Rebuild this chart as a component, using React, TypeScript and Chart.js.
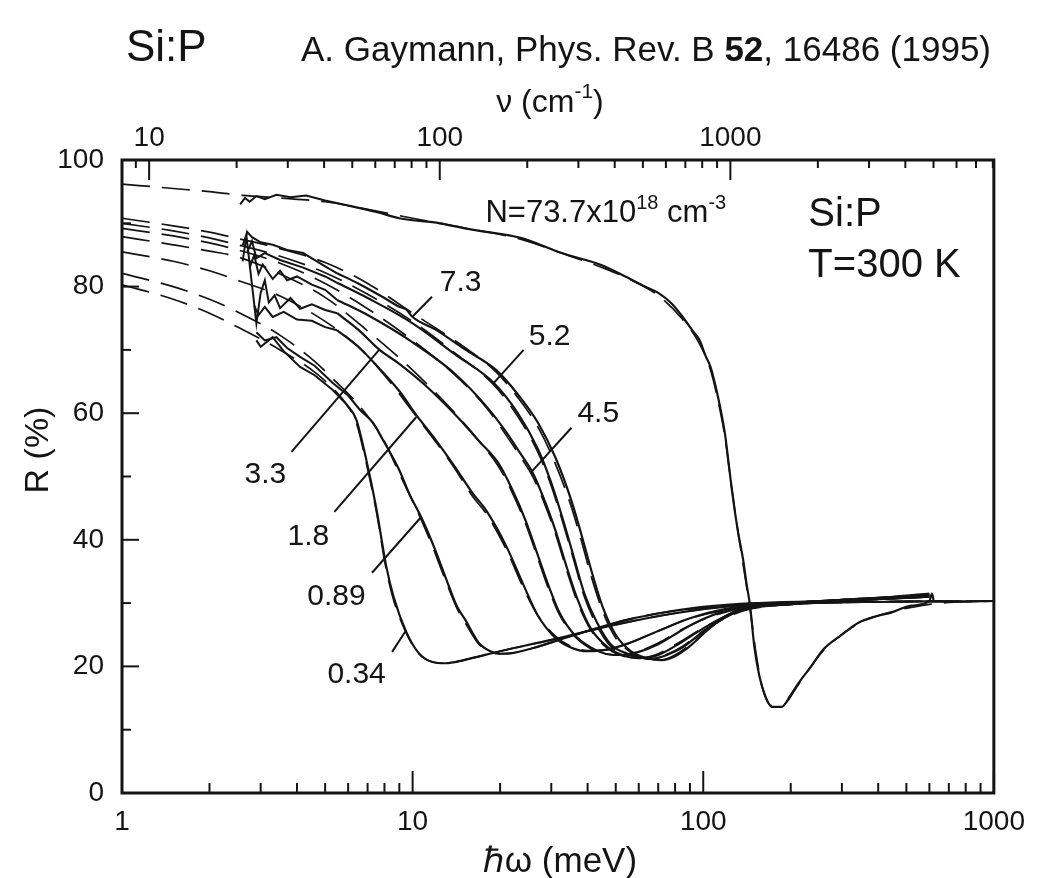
import React, { useEffect, useRef } from "react";
import { Chart, registerables } from "chart.js";

Chart.register(...registerables);

type P = [number, number];

// ---------- data: photon energy (meV) vs reflectivity R (%) ----------
// N = 73.7e18 cm^-3
const MEAS_737: P[] = [[2.55, 93.0], [2.65, 94.0], [2.75, 93.4], [2.9, 94.3], [3.1, 93.8], [3.4, 94.5], [3.8, 94.1], [4.3, 94.4], [5, 93.6], [6, 92.8], [7.5, 91.8], [9, 90.8], [12.4, 90.0], [16, 89.0], [23.5, 87.7], [32.6, 85.3], [44.6, 83.4], [54.4, 81.5], [63, 80.0], [70, 79.0], [78, 77.3], [85, 75.2], [92, 73.0], [97, 71.6], [102, 69.0], [106, 67.3], [110, 64.5], [113, 62.1], [116, 59.5], [119, 56.5], [122, 52.5], [125, 48.5], [128, 45.0], [132, 41.0], [137, 37.0], [141, 33.0], [145, 29.5], [150, 23.0], [156, 18.5], [163, 15.5], [172, 13.6], [186, 13.6], [200, 15.5], [213, 17.4], [235, 20.0], [258, 22.6], [300, 25.0], [342, 26.9], [400, 28.0], [443, 28.5], [520, 29.6], [600, 30.3], [612, 31.5], [620, 30.5]];
const FIT_737: P[] = [[1, 96.2], [1.5, 95.5], [2, 95.0], [2.6, 94.4], [3.5, 94.0], [5, 93.4], [7, 92.2], [10, 90.8], [15, 89.3], [23.5, 87.5], [33, 85.2], [45, 83.0], [55, 81.3], [70, 78.6], [85, 74.8], [97, 71.0], [106, 66.8], [113, 61.5], [119, 56.0], [125, 48.5], [132, 41.0], [140, 33.5], [146, 28.0], [152, 22.0], [160, 16.5], [172, 13.8], [186, 13.8], [213, 17.2], [258, 22.4], [342, 26.8], [443, 28.6], [600, 29.8], [700, 30.1], [1000, 30.3]];

// N = 7.3e18
const MEAS_73: P[] = [[2.6, 86.5], [2.7, 88.6], [2.8, 87.8], [3.0, 87.0], [3.3, 86.6], [3.7, 85.8], [4.2, 85.3], [5, 83.2], [5.5, 82.1], [6.5, 80.5], [8, 78.2], [9, 76.8], [9.5, 76.4], [10, 75.2], [12, 73.2], [15, 70.2], [19.4, 66.8], [23, 63.0], [27, 58.5], [31, 53.0], [35, 46.5], [38, 41.0], [41, 35.5], [45, 29.5], [50, 25.0], [56, 22.5], [64, 21.3], [72, 21.0], [80, 21.6], [90, 23.2], [105, 26.0], [120, 28.0], [140, 29.3], [200, 30.0], [300, 30.5], [450, 31.0], [600, 31.5]];
const FIT_73: P[] = [[1, 90.8], [1.5, 89.6], [2, 88.6], [2.5, 87.6], [3.5, 86.0], [5, 83.8], [7, 80.5], [10, 75.8], [15, 70.5], [19.4, 66.5], [23, 62.5], [27, 57.8], [31, 52.0], [35, 45.5], [38, 40.0], [41, 34.5], [45, 28.8], [50, 24.5], [56, 22.3], [64, 21.2], [72, 21.0], [80, 21.8], [90, 23.4], [105, 26.0], [120, 27.9], [140, 29.0], [200, 29.8], [400, 30.2], [1000, 30.3]];

// N = 5.2e18
const MEAS_52: P[] = [[2.7, 85.5], [2.8, 87.2], [2.9, 84.5], [3.1, 85.3], [3.5, 84.2], [4.2, 83.0], [5, 81.6], [5.5, 80.6], [7, 78.2], [10, 74.2], [14, 69.3], [19, 64.8], [23, 60.0], [27, 54.3], [30, 49.0], [33, 43.0], [36, 37.0], [39, 31.5], [43, 27.0], [48, 23.5], [55, 22.0], [66, 21.2], [75, 21.8], [85, 23.0], [100, 25.5], [120, 27.8], [140, 29.1], [200, 30.0], [300, 30.5], [600, 31.3]];
const FIT_52: P[] = [[1, 90.0], [1.5, 88.8], [2, 87.7], [2.5, 86.6], [3.5, 84.8], [5, 82.2], [7, 78.8], [10, 74.5], [14, 69.5], [19, 64.5], [23, 59.5], [27, 53.8], [30, 48.5], [33, 42.5], [36, 36.5], [39, 31.0], [43, 26.5], [48, 23.2], [55, 21.8], [66, 21.2], [75, 21.9], [85, 23.2], [100, 25.6], [120, 27.7], [140, 28.9], [200, 29.8], [400, 30.2], [1000, 30.3]];

// N = 4.5e18
const MEAS_45: P[] = [[2.75, 83.0], [2.85, 85.0], [2.95, 82.0], [3.05, 83.5], [3.3, 81.2], [3.5, 82.5], [3.7, 81.0], [4, 81.6], [4.5, 80.3], [5, 79.5], [5.5, 77.9], [7, 75.5], [10, 71.2], [14, 66.2], [18, 61.0], [21, 57.0], [23.2, 54.0], [25.9, 50.6], [28, 47.0], [31, 41.5], [34, 35.5], [37, 30.5], [41, 26.0], [47, 23.0], [54, 21.6], [60, 21.3], [70, 21.8], [82, 23.5], [100, 26.0], [120, 28.0], [140, 29.2], [200, 30.0], [300, 30.5], [600, 31.2]];
const FIT_45: P[] = [[1, 89.2], [1.5, 88.0], [2, 86.9], [2.5, 85.8], [3.5, 83.7], [5, 80.5], [7, 76.5], [10, 71.5], [14, 66.0], [18, 60.8], [21, 56.5], [23.2, 53.5], [25.9, 50.0], [28, 46.5], [31, 41.0], [34, 35.0], [37, 30.0], [41, 25.8], [47, 22.8], [54, 21.5], [60, 21.3], [70, 22.0], [82, 23.7], [100, 26.1], [120, 27.9], [140, 29.0], [200, 29.8], [400, 30.2], [1000, 30.3]];

// N = 3.3e18
const MEAS_33: P[] = [[2.6, 84.0], [2.68, 88.0], [2.9, 74.2], [3.0, 79.0], [3.1, 81.0], [3.2, 77.5], [3.35, 78.6], [3.5, 76.6], [3.8, 78.2], [4.1, 76.5], [4.5, 77.2], [5, 76.3], [5.5, 75.8], [6.5, 73.2], [7.7, 70.0], [9, 67.8], [11, 64.5], [14, 59.8], [17, 55.5], [19.8, 52.0], [22, 48.0], [24.5, 43.0], [27, 37.5], [29.5, 32.5], [32, 28.5], [36, 25.0], [41, 23.0], [46, 22.0], [52, 21.8], [60, 22.3], [70, 23.5], [85, 25.8], [100, 27.5], [130, 29.2], [200, 30.0], [300, 30.4], [600, 31.0]];
const FIT_33: P[] = [[1, 87.9], [1.5, 86.6], [2, 85.6], [2.5, 84.7], [3.5, 82.0], [5, 78.3], [7, 73.0], [10, 66.8], [14, 60.0], [17, 55.5], [19.8, 51.5], [22, 47.5], [24.5, 42.5], [27, 37.0], [29.5, 32.0], [32, 28.2], [36, 24.8], [41, 22.8], [46, 22.0], [52, 21.8], [60, 22.4], [70, 23.7], [85, 25.9], [100, 27.4], [130, 29.0], [200, 29.8], [400, 30.2], [1000, 30.3]];

// N = 1.8e18
const MEAS_18: P[] = [[2.85, 77.0], [2.95, 75.5], [3.1, 76.8], [3.3, 75.2], [3.6, 76.0], [4, 74.8], [4.5, 74.6], [5, 73.6], [5.5, 73.1], [6.5, 70.5], [8, 66.2], [9, 63.5], [10.3, 59.7], [12, 55.8], [14, 51.5], [16, 47.5], [18, 44.5], [21, 39.0], [24, 33.0], [27, 28.0], [31, 24.5], [35, 23.0], [40, 22.4], [46, 22.6], [55, 23.6], [70, 25.6], [90, 27.6], [120, 29.1], [200, 30.0], [300, 30.4], [600, 31.0]];
const FIT_18: P[] = [[1, 85.5], [1.5, 84.0], [2, 82.5], [2.5, 81.0], [3.5, 78.5], [5, 74.5], [6.5, 70.5], [8, 66.0], [10.3, 59.5], [12, 55.5], [14, 51.2], [16, 47.0], [18, 44.0], [21, 38.5], [24, 32.5], [27, 28.0], [31, 24.8], [35, 23.2], [40, 22.5], [46, 22.6], [55, 23.6], [70, 25.6], [90, 27.6], [120, 28.9], [200, 29.8], [400, 30.2], [1000, 30.3]];

// N = 0.89e18
const MEAS_089: P[] = [[2.9, 72.8], [3.1, 71.5], [3.4, 72.0], [3.7, 70.3], [4.1, 68.9], [4.6, 67.5], [5.3, 64.8], [6, 62.8], [6.6, 60.5], [7.3, 58.5], [7.9, 55.8], [8.5, 53.2], [9, 51.0], [9.8, 47.0], [10.7, 43.6], [11.7, 39.5], [13, 34.0], [14.2, 29.5], [15.2, 27.3], [16.9, 23.7], [18.5, 22.4], [20, 22.0], [22, 22.1], [26, 22.9], [32, 24.2], [40, 25.6], [55, 27.4], [75, 28.6], [100, 29.4], [150, 30.0], [300, 30.4], [600, 31.0]];
const FIT_089: P[] = [[1, 82.1], [1.5, 80.0], [2, 78.0], [2.5, 76.0], [3.5, 72.3], [4.6, 68.2], [5.3, 65.5], [6.6, 61.0], [7.9, 56.0], [9, 50.5], [10.7, 43.2], [11.7, 39.0], [13, 33.5], [14.2, 29.2], [15.2, 26.8], [16.9, 23.5], [18.5, 22.3], [20, 22.0], [22, 22.1], [26, 22.9], [32, 24.2], [40, 25.6], [55, 27.4], [75, 28.6], [100, 29.3], [150, 29.9], [400, 30.2], [1000, 30.3]];

// N = 0.34e18
const MEAS_034: P[] = [[2.9, 71.5], [3.0, 70.5], [3.3, 72.0], [3.6, 69.8], [4.1, 67.3], [4.6, 66.0], [5.3, 63.7], [5.9, 61.5], [6.4, 59.0], [6.9, 53.0], [7.5, 45.0], [8.1, 36.0], [8.6, 31.0], [9.5, 25.5], [10.5, 22.1], [11.7, 20.7], [13, 20.5], [15, 21.0], [20, 22.4], [30, 24.2], [50, 26.6], [80, 28.4], [130, 29.6], [250, 30.2], [600, 31.0]];
const FIT_034: P[] = [[1, 80.3], [1.5, 78.0], [2, 75.8], [2.5, 73.6], [3.5, 70.0], [4.6, 66.5], [5.3, 64.0], [5.9, 61.5], [6.4, 58.5], [6.9, 52.5], [7.5, 44.5], [8.1, 35.5], [8.6, 30.5], [9.5, 25.3], [10.5, 22.0], [11.7, 20.7], [13, 20.5], [15, 21.0], [20, 22.4], [30, 24.2], [50, 26.6], [80, 28.4], [130, 29.6], [250, 30.1], [1000, 30.3]];

const MEASURED: P[][] = [MEAS_737, MEAS_73, MEAS_52, MEAS_45, MEAS_33, MEAS_18, MEAS_089, MEAS_034];
const FITS: P[][] = [FIT_737, FIT_73, FIT_52, FIT_45, FIT_33, FIT_18, FIT_089, FIT_034];
// below this energy (meV) the measured spectra are noisy: drawn with straight segments
const NOISY_BELOW = 5.5;

// ---------- axes ----------
const X_TICKS = [1, 10, 100, 1000];
const X_MINOR = [2, 3, 4, 5, 6, 7, 8, 9, 20, 30, 40, 50, 60, 70, 80, 90, 200, 300, 400, 500, 600, 700, 800, 900];
const Y_TICKS = [0, 20, 40, 60, 80, 100];
const Y_MINOR = [10, 30, 50, 70, 90];
const WN_TICKS = [10, 100, 1000];
const WN_MINOR = [9, 20, 30, 40, 50, 60, 70, 80, 90, 200, 300, 400, 500, 600, 700, 800, 900, 2000, 3000, 4000, 5000, 6000, 7000, 8000];
const MEV_TO_WN = 8.0655;

// ---------- annotations (label text, position in data units) ----------
const SAMPLE_LABELS = ["7.3", "5.2", "4.5", "3.3", "1.8", "0.89", "0.34"];
const LABEL_AT: P[] = [[12.4, 79.3], [25.1, 70.8], [36.9, 58.6], [2.64, 49.0], [3.71, 39.2], [4.34, 29.7], [5.09, 17.4]];
const LEADER_FROM: P[] = [[9.96, 75.2], [19.03, 64.8], [25.5, 50.6], [7.67, 70.0], [10.3, 59.4], [10.7, 43.6], [9.5, 25.7]];
const LEADER_TO: P[] = [[11.66, 78.4], [24.1, 70.0], [35.2, 57.7], [3.83, 53.9], [5.38, 44.4], [7.25, 34.8], [8.5, 22.3]];
const DENSITY_AT: P = [17.8, 90.2];
const SAMPLE_AT: P = [230, 89.6];
const TEMP_AT: P = [230, 81.5];

const INK = "#141414";
const FAM = "'Liberation Sans', Arial, sans-serif";

type Part = { t: string; size: number; bold?: boolean; rise?: number };
const fnt = (p: Part) => `${p.bold ? "bold " : ""}${p.size}px ${FAM}`;
function richWidth(ctx: CanvasRenderingContext2D, parts: Part[]) {
  let w = 0;
  for (const p of parts) { ctx.font = fnt(p); w += ctx.measureText(p.t).width; }
  return w;
}
function drawRich(ctx: CanvasRenderingContext2D, parts: Part[], x: number, y: number, align: "left" | "center" = "left") {
  let cx = align === "center" ? x - richWidth(ctx, parts) / 2 : x;
  ctx.textAlign = "left";
  ctx.textBaseline = "alphabetic";
  for (const p of parts) {
    ctx.font = fnt(p);
    ctx.fillText(p.t, cx, y - (p.rise || 0));
    cx += ctx.measureText(p.t).width;
  }
}

const decor = {
  id: "decor",
  beforeDraw(chart: any) {
    const ctx = chart.ctx;
    ctx.save();
    ctx.fillStyle = "#ffffff";
    ctx.fillRect(0, 0, chart.width, chart.height);
    ctx.restore();
  },
  afterDraw(chart: any) {
    const { ctx, chartArea: a, scales } = chart;
    const sx = scales.x, sy = scales.y, st = scales.x2;
    const px = (p: P) => [sx.getPixelForValue(p[0]), sy.getPixelForValue(p[1])];
    ctx.save();
    ctx.strokeStyle = INK;
    ctx.fillStyle = INK;
    ctx.lineCap = "butt";
    const seg = (x1: number, y1: number, x2: number, y2: number) => {
      ctx.beginPath(); ctx.moveTo(x1, y1); ctx.lineTo(x2, y2); ctx.stroke();
    };
    ctx.lineWidth = 2;
    X_TICKS.forEach((v) => { const p = sx.getPixelForValue(v); seg(p, a.bottom, p, a.bottom - 22); });
    X_MINOR.forEach((v) => { const p = sx.getPixelForValue(v); seg(p, a.bottom, p, a.bottom - 10); });
    WN_TICKS.forEach((v) => { const p = st.getPixelForValue(v); seg(p, a.top, p, a.top + 20); });
    WN_MINOR.forEach((v) => { const p = st.getPixelForValue(v); seg(p, a.top, p, a.top + 8); });
    Y_TICKS.forEach((v) => { const p = sy.getPixelForValue(v); seg(a.left, p, a.left + 17, p); });
    Y_MINOR.forEach((v) => { const p = sy.getPixelForValue(v); seg(a.left, p, a.left + 9, p); });
    ctx.lineWidth = 3;
    ctx.strokeRect(a.left, a.top, a.right - a.left, a.bottom - a.top);

    // leaders and sample labels
    ctx.lineWidth = 2;
    LEADER_FROM.forEach((f, i) => {
      const [x1, y1] = px(f); const [x2, y2] = px(LEADER_TO[i]);
      seg(x1, y1, x2, y2);
    });
    SAMPLE_LABELS.forEach((t, i) => {
      const [x, y] = px(LABEL_AT[i]);
      drawRich(ctx, [{ t, size: 30 }], x, y);
    });

    // in-plot legend text
    const [nx, ny] = px(DENSITY_AT);
    drawRich(ctx, [
      { t: "N=73.7x10", size: 31 }, { t: "18", size: 20, rise: 13 },
      { t: " cm", size: 31 }, { t: "-3", size: 20, rise: 13 },
    ], nx, ny);
    const [tx, ty1] = px(SAMPLE_AT);
    const [, ty2] = px(TEMP_AT);
    drawRich(ctx, [{ t: "Si:P", size: 40 }], tx, ty1);
    drawRich(ctx, [{ t: "T=300 K", size: 40 }], tx, ty2);

    // axis titles
    drawRich(ctx, [{ t: "\u210F\u03C9 (meV)", size: 35 }], (a.left + a.right) / 2 + 2, 872, "center");
    drawRich(ctx, [{ t: "\u03BD (cm", size: 32 }, { t: "-1", size: 21, rise: 14 }, { t: ")", size: 32 }], 550, 112, "center");
    ctx.save();
    ctx.translate(48, 450);
    ctx.rotate(-Math.PI / 2);
    drawRich(ctx, [{ t: "R (%)", size: 34 }], 0, 0, "center");
    ctx.restore();

    // page header
    drawRich(ctx, [{ t: "Si:P", size: 44 }], 126, 61);
    drawRich(ctx, [
      { t: "A. Gaymann, Phys. Rev. B ", size: 35 }, { t: "52", size: 35, bold: true },
      { t: ", 16486 (1995)", size: 35 },
    ], 301, 61);
    ctx.restore();
  },
};

const toXY = (arr: P[]) => arr.map(([x, y]) => ({ x, y }));

export default function App() {
  const ref = useRef<HTMLCanvasElement | null>(null);
  useEffect(() => {
    if (!ref.current) return;
    const datasets: any[] = [];
    FITS.forEach((d) => datasets.push({
      data: toXY(d), borderColor: INK, borderWidth: 1.7, borderDash: [28, 12],
      pointRadius: 0, fill: false, cubicInterpolationMode: "monotone",
    }));
    MEASURED.forEach((d) => {
      const k = d.findIndex((p) => p[0] >= NOISY_BELOW);
      datasets.push({
        data: toXY(d.slice(0, k + 1)), borderColor: INK, borderWidth: 2, tension: 0,
        pointRadius: 0, fill: false, borderJoinStyle: "miter",
      });
      datasets.push({
        data: toXY(d.slice(k)), borderColor: INK, borderWidth: 2.2,
        pointRadius: 0, fill: false, cubicInterpolationMode: "monotone",
      });
    });
    const tickFont = { family: FAM, size: 28 };
    const chart = new Chart(ref.current, {
      type: "line",
      data: { datasets },
      options: {
        animation: false,
        responsive: false,
        maintainAspectRatio: false,
        devicePixelRatio: 1,
        layout: { padding: { left: 0, right: 40, top: 0, bottom: 0 } },
        plugins: { legend: { display: false }, tooltip: { enabled: false }, title: { display: false } },
        scales: {
          x: {
            type: "logarithmic", position: "bottom", min: 1, max: 1000,
            grid: { display: false, drawTicks: false, tickLength: 0 }, border: { display: false },
            ticks: { autoSkip: false, maxRotation: 0, color: INK, font: tickFont, padding: 12, callback: (v: any) => String(v) },
            afterBuildTicks: (s: any) => { s.ticks = X_TICKS.map((value) => ({ value })); },
            afterFit: (s: any) => { s.height = 85; },
          },
          x2: {
            type: "logarithmic", position: "top", min: 1 * MEV_TO_WN, max: 1000 * MEV_TO_WN,
            grid: { display: false, drawTicks: false, tickLength: 0 }, border: { display: false },
            ticks: { autoSkip: false, maxRotation: 0, color: INK, font: tickFont, padding: 5, callback: (v: any) => String(v) },
            afterBuildTicks: (s: any) => { s.ticks = WN_TICKS.map((value) => ({ value })); },
            afterFit: (s: any) => { s.height = 160; },
          },
          y: {
            type: "linear", position: "left", min: 0, max: 100,
            grid: { display: false, drawTicks: false, tickLength: 0 }, border: { display: false },
            ticks: { autoSkip: false, color: INK, font: tickFont, padding: 18, callback: (v: any) => String(v) },
            afterBuildTicks: (s: any) => { s.ticks = Y_TICKS.map((value) => ({ value })); },
            afterFit: (s: any) => { s.width = 122; },
          },
        },
      } as any,
      plugins: [decor],
    });
    return () => chart.destroy();
  }, []);
  return (
    <div style={{ position: "absolute", left: 0, top: 0, width: 1037, height: 878, background: "#fff" }}>
      <canvas ref={ref} width={1037} height={878} style={{ width: 1037, height: 878, display: "block" }} />
    </div>
  );
}
